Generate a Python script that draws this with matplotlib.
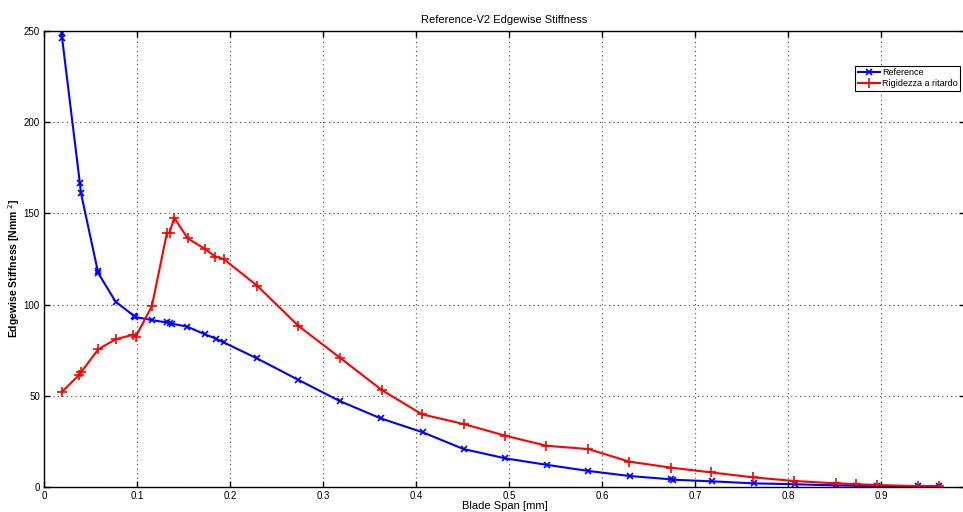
import matplotlib
matplotlib.use("Agg")
import matplotlib.pyplot as plt

plt.rcParams['font.family'] = ['Liberation Sans', 'DejaVu Sans']

# blade span positions and stiffness values
ref_x = [0.019, 0.0195, 0.0385, 0.0398, 0.0577, 0.058, 0.077, 0.097, 0.098, 0.116,
         0.132, 0.135, 0.138, 0.154, 0.173, 0.185, 0.193, 0.229, 0.2735, 0.318,
         0.362, 0.407, 0.451, 0.496, 0.541, 0.585, 0.630, 0.674, 0.676, 0.718,
         0.763, 0.807, 0.851, 0.873, 0.895, 0.940, 0.962]
ref_y = [249, 246, 166.8, 161, 118.6, 117.5, 101.6, 93.7, 93.2, 91.5,
         90.2, 90, 89.5, 87.9, 83.7, 81.3, 79.3, 70.5, 58.7, 47.1,
         37.6, 30, 20.8, 15.7, 12.1, 8.8, 6.0, 4.2, 4.0, 3.1,
         2.0, 1.5, 0.9, 0.7, 0.5, 0.4, 0.4]

rit_x = [0.019, 0.0376, 0.0398, 0.0584, 0.077, 0.096, 0.0986, 0.116, 0.132, 0.135,
         0.140, 0.1545, 0.173, 0.184, 0.193, 0.229, 0.2735, 0.318, 0.363, 0.406,
         0.451, 0.496, 0.540, 0.585, 0.629, 0.674, 0.717, 0.762, 0.806, 0.851,
         0.873, 0.895, 0.940, 0.962]
rit_y = [52, 61.4, 62.9, 75.5, 81, 83.5, 82.4, 99.2, 139, 139.4,
         147.6, 136.3, 130.5, 126.3, 125, 110.4, 88.3, 70.9, 53.2, 39.9,
         34.5, 28.1, 22.6, 20.8, 13.9, 10.6, 8.0, 5.3, 3.3, 2.0,
         1.5, 1.1, 0.4, 0.4]

x_ticks = [0, 0.1, 0.2, 0.3, 0.4, 0.5, 0.6, 0.7, 0.8, 0.9]
y_ticks = [0, 50, 100, 150, 200, 250]

fig = plt.figure(figsize=(9.63, 5.12), dpi=100)
ax = fig.add_axes([44 / 963, 25 / 512, 921 / 963, 456 / 512])

ax.plot(ref_x, ref_y, '-x', color='blue', lw=1.5, ms=5, mew=1.2, label='Reference')
ax.plot(rit_x, rit_y, '-+', color='red', lw=1.5, ms=7, mew=1.2, label='Rigidezza a ritardo')

ax.set_xlim(0, 0.99)
ax.set_ylim(0, 250)
ax.set_xticks(x_ticks)
ax.set_xticklabels(['0', '0.1', '0.2', '0.3', '0.4', '0.5', '0.6', '0.7', '0.8', '0.9'])
ax.set_yticks(y_ticks)
ax.tick_params(direction='in', top=True, right=True, labelsize=7, length=4, width=1, pad=3)
ax.grid(True, linestyle=(0, (1, 3)), color='#444444', lw=0.8)
for s in ax.spines.values():
    s.set_linewidth(1)

ax.set_title('Reference-V2 Edgewise Stiffness', fontsize=8, pad=6)
ax.set_xlabel('Blade Span [mm]', fontsize=8)
ax.xaxis.set_label_coords(0.5, -0.03)
ax.set_ylabel('Edgewise Stiffness [Nmm $^{2}$]', fontsize=7.5, fontweight='bold')
ax.yaxis.set_label_coords(-0.024, 0.48)

leg = ax.legend(loc='upper right', bbox_to_anchor=(1.0, 0.934), fontsize=6.5,
                fancybox=False, edgecolor='black', framealpha=1,
                handlelength=2.5, borderpad=0.3, labelspacing=0.2, handletextpad=0.2)
leg.get_frame().set_linewidth(0.8)

fig.savefig('out.png', dpi=100)
